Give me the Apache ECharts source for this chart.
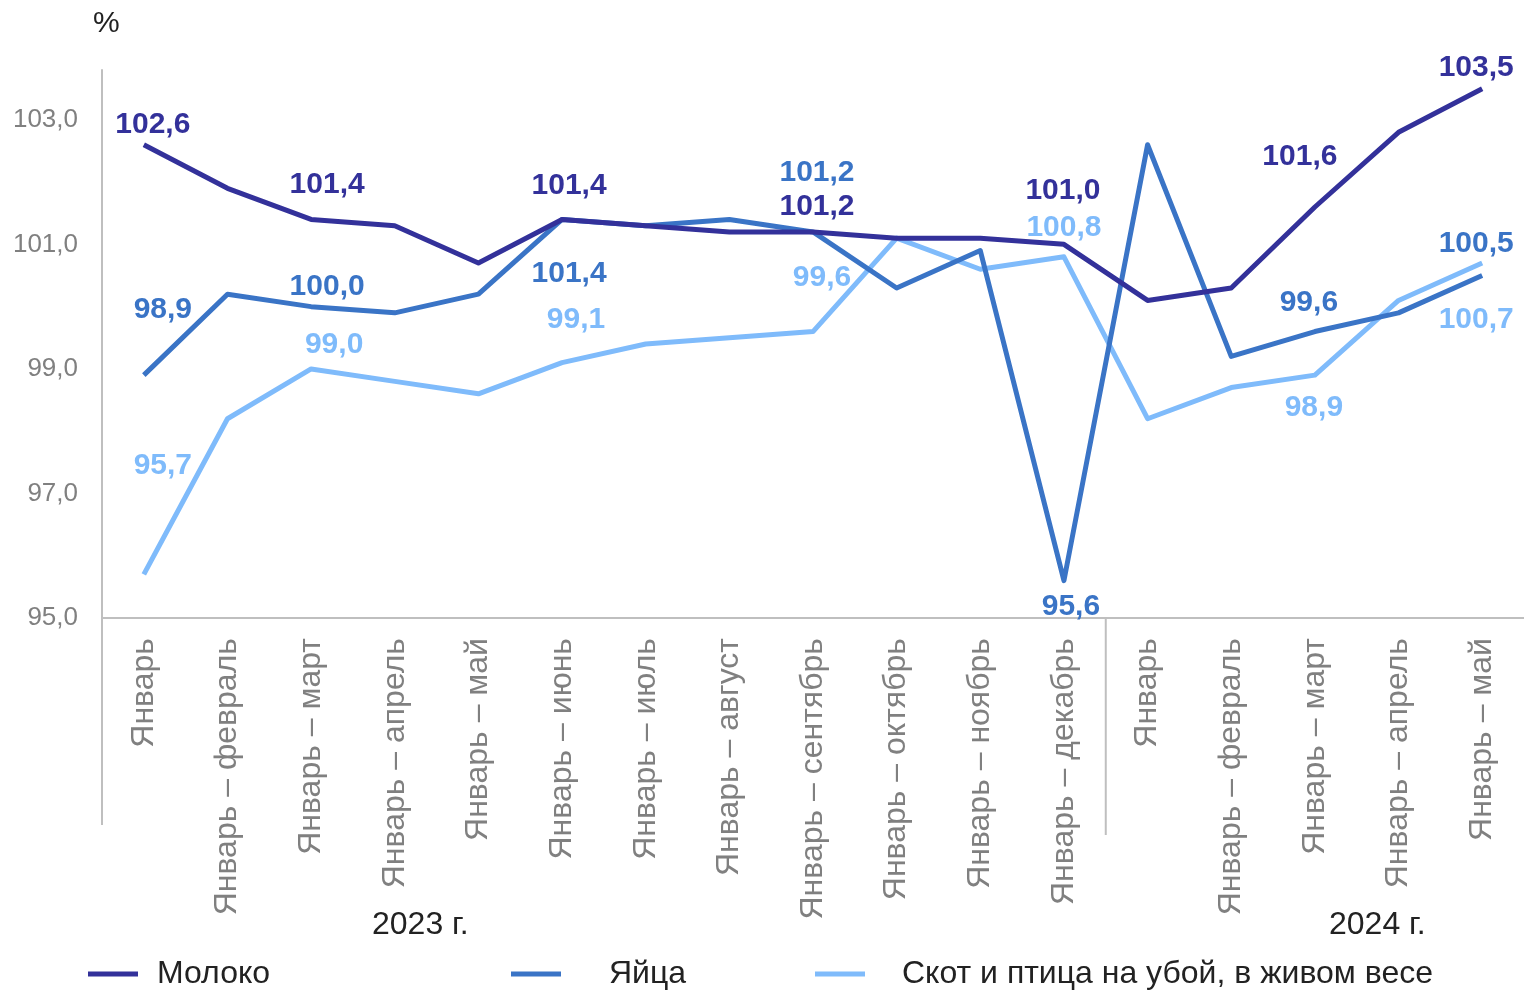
<!DOCTYPE html>
<html>
<head>
<meta charset="utf-8">
<script src="https://cdn.jsdelivr.net/npm/echarts@6/dist/echarts.min.js"></script>
<style>
  html, body { margin: 0; padding: 0; background: #fff; }
  #chart { width: 1524px; height: 991px; }
</style>
</head>
<body>
<div id="chart"></div>
<script>
// Периоды (накопленным итогом)
const periods = [
    'Январь', 'Январь – февраль', 'Январь – март', 'Январь – апрель', 'Январь – май',
    'Январь – июнь', 'Январь – июль', 'Январь – август', 'Январь – сентябрь',
    'Январь – октябрь', 'Январь – ноябрь', 'Январь – декабрь',
    'Январь', 'Январь – февраль', 'Январь – март', 'Январь – апрель', 'Январь – май'
];
const years = ['2023 г.', '2024 г.'];
const yTicks = [95, 97, 99, 101, 103];

const milk = [102.6, 101.9, 101.4, 101.3, 100.7, 101.4, 101.3, 101.2, 101.2, 101.1, 101.1, 101.0,
              100.1, 100.3, 101.6, 102.8, 103.5];
const eggs = [98.9, 100.2, 100.0, 99.9, 100.2, 101.4, 101.3, 101.4, 101.2, 100.3, 100.9, 95.6,
              102.6, 99.2, 99.6, 99.9, 100.5];
const cattle = [95.7, 98.2, 99.0, 98.8, 98.6, 99.1, 99.4, 99.5, 99.6, 101.1, 100.6, 100.8,
                98.2, 98.7, 98.9, 100.1, 100.7];

// индексы точек с подписями
const labelIdx = [0, 2, 5, 8, 11, 14, 16];

const fmt = v => v.toFixed(1).replace('.', ',');
const FONT = 'Liberation Sans, Arial, sans-serif';

// смещения подписей относительно точки
const offsets = {
    milk:   [[9, -20], [16, -35], [7, -34], [4, -25], [-1, -54], [-15, -50], [-6, -21]],
    eggs:   [[19, -65], [16, -20], [7, 54], [4, -59], [7, 26], [-6, -29], [-6, -32]],
    cattle: [[19, -109], [23, -24], [14, -43], [9, -54], [0, -29], [-1, 33], [-6, 57]]
};

function buildData(values, offs, color) {
    return values.map((v, i) => {
        const k = labelIdx.indexOf(i);
        if (k < 0) return v;
        return {
            value: v,
            label: {
                show: true,
                position: offs[k],
                align: 'center',
                verticalAlign: 'middle',
                formatter: p => fmt(p.value),
                color: color,
                fontSize: 30,
                fontWeight: 'bold',
                fontFamily: FONT
            }
        };
    });
}

const colors = { milk: '#33319a', eggs: '#3a74c6', cattle: '#7fbbfb' };

const dom = document.getElementById('chart');
const chart = echarts.init(dom);

function lineSeries(name, values, key) {
    return {
        name: name,
        type: 'line',
        data: buildData(values, offsets[key], colors[key]),
        symbol: 'circle',
        symbolSize: 0,
        showSymbol: true,
        lineStyle: { color: colors[key], width: 5, join: 'round' },
        itemStyle: { color: colors[key] },
        labelLayout: { hideOverlap: false },
        z: key === 'milk' ? 4 : (key === 'eggs' ? 3 : 2),
        animation: false
    };
}

const legendBase = {
    top: 958,
    padding: 0,
    icon: 'rect',
    itemWidth: 50,
    itemHeight: 5,
    textStyle: { fontSize: 32, color: '#222', fontFamily: FONT }
};

const option = {
    animation: false,
    title: {
        text: '%',
        left: 88,
        top: 4,
        textStyle: { fontSize: 30, fontWeight: 'normal', color: '#222', fontFamily: FONT }
    },
    grid: { left: 102, right: 0, top: 70, bottom: 373, containLabel: false },
    legend: [
        Object.assign({}, legendBase, { left: 88, data: ['Молоко'],
            textStyle: Object.assign({}, legendBase.textStyle, { padding: [0, 0, 0, 14] }) }),
        Object.assign({}, legendBase, { left: 511, data: ['Яйца'],
            textStyle: Object.assign({}, legendBase.textStyle, { padding: [0, 0, 0, 43] }) }),
        Object.assign({}, legendBase, { left: 815, data: ['Скот и птица на убой, в живом весе'],
            textStyle: Object.assign({}, legendBase.textStyle, { padding: [0, 0, 0, 32] }) })
    ],
    xAxis: {
        type: 'category',
        data: periods,
        boundaryGap: true,
        axisLine: { lineStyle: { color: '#bfbfbf', width: 2 } },
        axisTick: { show: false },
        axisLabel: {
            rotate: 90,
            interval: 0,
            margin: 20,
            fontSize: 32,
            color: '#808080',
            fontFamily: FONT
        }
    },
    yAxis: {
        type: 'value',
        min: yTicks[0],
        max: 103.8,
        interval: 2,
        splitLine: { show: false },
        axisTick: { show: false },
        axisLine: { show: true, lineStyle: { color: '#bfbfbf', width: 2 } },
        axisLabel: {
            showMaxLabel: false,
            margin: 24,
            fontSize: 26,
            color: '#808080',
            fontFamily: FONT,
            formatter: v => fmt(v)
        }
    },
    series: [
        lineSeries('Молоко', milk, 'milk'),
        lineSeries('Яйца', eggs, 'eggs'),
        lineSeries('Скот и птица на убой, в живом весе', cattle, 'cattle')
    ]
};

chart.setOption(option);

// разделители групп лет и подписи годов
const x0 = chart.convertToPixel({ xAxisIndex: 0 }, 0);
const x11 = chart.convertToPixel({ xAxisIndex: 0 }, 11);
const x12 = chart.convertToPixel({ xAxisIndex: 0 }, 12);
const step = x12 - x11;
const yBase = chart.convertToPixel({ yAxisIndex: 0 }, yTicks[0]);
const xLeft = x0 - step / 2;
const xSep = (x11 + x12) / 2;

chart.setOption({
    graphic: [
        { type: 'line', shape: { x1: xLeft, y1: yBase, x2: xLeft, y2: yBase + 207 },
          style: { stroke: '#bfbfbf', lineWidth: 2 } },
        { type: 'line', shape: { x1: xSep, y1: yBase, x2: xSep, y2: yBase + 217 },
          style: { stroke: '#bfbfbf', lineWidth: 2 } },
        { type: 'text', left: 372, top: 909,
          style: { text: years[0], fontSize: 32, fill: '#222', fontFamily: FONT } },
        { type: 'text', left: 1329, top: 909,
          style: { text: years[1], fontSize: 32, fill: '#222', fontFamily: FONT } }
    ]
});
</script>
</body>
</html>
